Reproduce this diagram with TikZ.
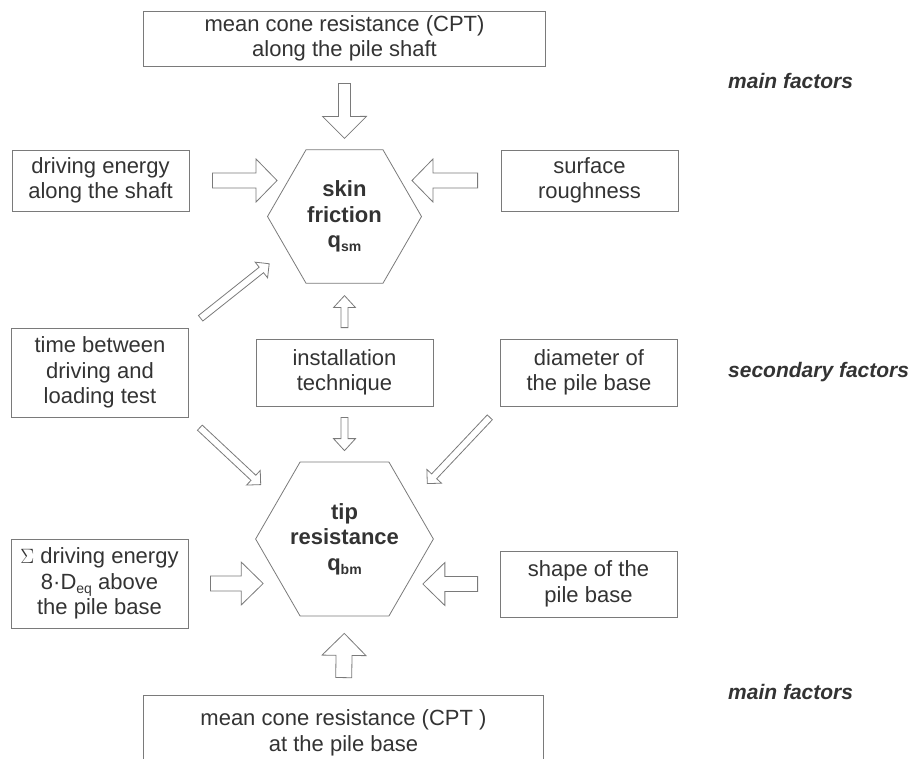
\documentclass[tikz,border=0pt]{standalone}
\usepackage{fontspec}
\setmainfont{Liberation Sans}
\usetikzlibrary{shapes.geometric,calc}
\definecolor{txtgray}{HTML}{333333}
\definecolor{linegray}{HTML}{7A7A7A}

\newcommand{\subidx}[1]{\raisebox{-4pt}{\fontsize{14}{14}\selectfont #1}}
% outlined block arrow: from, to, gap at start, gap at end, half shaft, half head, head length
\newcommand{\fatarrow}[7]{%
	\coordinate (fa-t) at ($(#1)!#3!(#2)$);
	\coordinate (fa-p) at ($(#2)!#4!(#1)$);
	\coordinate (fa-h) at ($(fa-p)!#7!(fa-t)$);
	\draw[blockarrow] ($(fa-t)!#5!90:(fa-p)$) -- ($(fa-h)!#5!90:(fa-p)$)
		-- ($(fa-h)!#6!90:(fa-p)$) -- (fa-p) -- ($(fa-h)!#6!-90:(fa-p)$)
		-- ($(fa-h)!#5!-90:(fa-p)$) -- ($(fa-t)!#5!-90:(fa-p)$) -- cycle;
}

\begin{document}
\begin{tikzpicture}[x=1pt, y=-1pt,
		every node/.style={font=\fontsize{22}{25.5}\selectfont, text=txtgray},
		factor/.style={draw=linegray, line width=0.8pt, inner sep=0pt, align=center, minimum width=177pt},
		hexa/.style={regular polygon, regular polygon sides=6, minimum size=154pt, inner sep=0pt,
			draw=linegray, line width=0.8pt, align=center, font=\fontsize{22}{25.5}\selectfont\bfseries},
		blockarrow/.style={draw=linegray, line width=0.8pt, fill=white},
		level/.style={anchor=west, inner sep=0pt, font=\fontsize{21}{24}\selectfont\bfseries\itshape}]
				\useasboundingbox (0,0) rectangle (920,758);
				\clip (0,0) rectangle (920,758);
				% factor boxes
				\node[factor, minimum width=402pt, minimum height=55pt] (cptshaft) at (344.5,38.5) {mean cone resistance (CPT)\\along the pile shaft};
				\node[factor, minimum height=61pt] (drive) at (100.5,180.5) {driving energy\\along the shaft};
				\node[factor, minimum height=61pt] (rough) at (589.5,180.5) {surface\\roughness};
				\node[factor, minimum height=89pt] (time) at (100,372.5) {time between\\driving and\\loading test};
				\node[factor, minimum height=67pt] (install) at (344.5,372.5) {installation\\technique};
				\node[factor, minimum height=67pt] (diam) at (589,372.5) {diameter of\\the pile base};
				\node[factor, minimum height=89pt] (sumdrive) at (99.5,583.5) {$\Sigma$ driving energy\\8·D\subidx{eq} above\\the pile base};
				\node[factor, minimum height=66pt] (shape) at (588.5,584) {shape of the\\pile base};
				\node[factor, minimum width=400pt, minimum height=76pt] (cptbase) at (343.5,733) {mean cone resistance (CPT )\\at the pile base};
				% resistances
				\node[hexa] (skin) at (344.5,216.5) {skin\\friction\\q\subidx{sm}};
				\node[hexa] (tip) at (344.5,539) {tip\\resistance\\q\subidx{bm}};
				% levels
				\node[level] (mainshaft) at (728,81) {main factors};
				\node[level] (second) at (728,372) {secondary factors};
				\node[level] (mainbase) at (728,692) {main factors};
				% arrows
				\fatarrow{cptshaft.south}{skin.north}{17pt}{11pt}{6pt}{22pt}{22pt}
				\fatarrow{drive.east}{drive.east -| skin.west}{23pt}{-10pt}{7.5pt}{21.5pt}{21pt}
				\fatarrow{rough.west}{rough.west -| skin.east}{23pt}{-10pt}{7.5pt}{21.5pt}{21pt}
				\fatarrow{install.north}{skin.south}{11pt}{12pt}{3.5pt}{11pt}{12pt}
				\fatarrow{time.north east}{skin.210}{15pt}{22pt}{3.5pt}{10pt}{10pt}
				\fatarrow{time.south east}{tip.150}{15pt}{23pt}{3.5pt}{10pt}{10pt}
				\fatarrow{diam.south west}{tip.30}{15pt}{23pt}{3.5pt}{10pt}{10pt}
				\fatarrow{install.south}{tip.north}{11pt}{11pt}{3.5pt}{11pt}{12pt}
				\fatarrow{sumdrive.east}{sumdrive.east -| tip.west}{22pt}{-8pt}{7.5pt}{21.5pt}{22pt}
				\fatarrow{shape.west}{shape.west -| tip.east}{22pt}{-11pt}{7.5pt}{21.5pt}{22pt}
				\fatarrow{cptbase.north}{tip.south}{17pt}{17pt}{8pt}{22pt}{22pt}
			\end{tikzpicture}
\end{document}
